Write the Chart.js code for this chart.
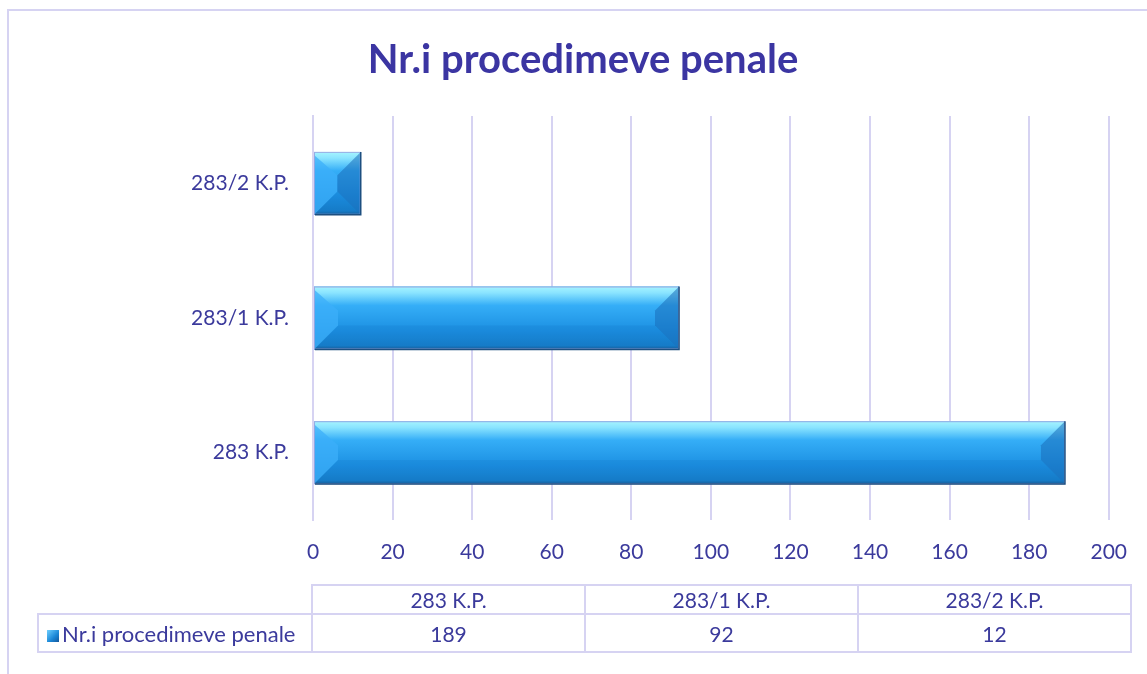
<!DOCTYPE html>
<html lang="sq">
<head>
    <meta charset="UTF-8">
    <title>Nr.i procedimeve penale</title>
    <script src="https://cdn.jsdelivr.net/npm/chart.js"></script>
    <style>
        body {
            margin: 0;
            font-family: Lato, "Noto Sans", sans-serif;
            background: #fff;
        }
        .frame {
            position: relative;
            width: 1147px;
            height: 674px;
            overflow: hidden;
        }
        .frame .border {
            position: absolute;
            left: 7px;
            top: 9px;
            width: 1200px;
            height: 700px;
            border: 2px solid #d6d3f2;
        }
        .title {
            position: absolute;
            left: 0;
            top: 34px;
            width: 1166px;
            text-align: center;
            font-size: 40px;
            font-weight: bold;
            color: #3b35a2;
            line-height: 48px;
        }
        canvas {
            position: absolute;
            left: 0;
            top: 0;
        }
        table {
            position: absolute;
            left: 37px;
            top: 584px;
            border-collapse: collapse;
            color: #3b3a9c;
            font-size: 21px;
        }
        td {
            border: 2px solid #d6d3f2;
            text-align: center;
            padding: 0;
        }
        tr.head td { height: 27px; }
        tr.vals td { height: 36px; }
        td.blank { border: none; border-right: 2px solid #d6d3f2; }
        td.legend { text-align: left; padding-left: 8px; white-space: nowrap; font-size: 22px; }
        .swatch {
            display: inline-block;
            width: 12px;
            height: 12px;
            margin-right: 3px;
            background: linear-gradient(135deg, #6fd0ff, #1a86d6 60%, #15569a);
        }
    </style>
</head>
<body>
<div class="frame">
    <div class="border"></div>
    <canvas id="chart" width="1147" height="674"></canvas>
    <div class="title" id="title"></div>
    <table id="dataTable"></table>
</div>

<script>
    // data
    const categories = ['283 K.P.', '283/1 K.P.', '283/2 K.P.'];
    const seriesName = 'Nr.i procedimeve penale';
    const values = [189, 92, 12];
    const xTicks = [0, 20, 40, 60, 80, 100, 120, 140, 160, 180, 200];

    const textColor = '#3b3a9c';
    const gridColor = '#d6d3f2';

    document.getElementById('title').textContent = seriesName;

    // bars are listed bottom to top in the picture, so reverse for the y axis
    const yLabels = categories.slice().reverse();
    const yValues = values.slice().reverse();

    // glossy fill + bevelled ends, painted over the library's own bar elements
    const bevelPlugin = {
        id: 'bevel',
        afterDatasetsDraw(chart) {
            const ctx = chart.ctx;
            const meta = chart.getDatasetMeta(0);
            meta.data.forEach(bar => {
                const x0 = bar.base, x1 = bar.x;
                const y0 = bar.y - bar.height / 2, y1 = bar.y + bar.height / 2;
                const b = Math.min(bar.height / 2, (x1 - x0) / 2, 24);
                ctx.save();

                const g = ctx.createLinearGradient(0, y0, 0, y1);
                g.addColorStop(0, '#a6f4ff');
                g.addColorStop(0.1, '#8ae4ff');
                g.addColorStop(0.3, '#35aef7');
                g.addColorStop(0.7, '#1c90e2');
                g.addColorStop(0.94, '#1780cc');
                g.addColorStop(1, '#1a5d96');
                ctx.fillStyle = g;
                ctx.fillRect(x0, y0, x1 - x0, y1 - y0);

                // left face - lighter
                ctx.beginPath();
                ctx.moveTo(x0, y0 + 3);
                ctx.lineTo(x0 + b, y0 + b);
                ctx.lineTo(x0 + b, y1 - b);
                ctx.lineTo(x0, y1);
                ctx.closePath();
                ctx.fillStyle = 'rgba(60,175,250,0.75)';
                ctx.fill();
                // right face - darker
                ctx.beginPath();
                ctx.moveTo(x1, y0);
                ctx.lineTo(x1 - b, y0 + b);
                ctx.lineTo(x1 - b, y1 - b);
                ctx.lineTo(x1, y1);
                ctx.closePath();
                ctx.fillStyle = 'rgba(25,110,185,0.55)';
                ctx.fill();
                // bottom face - slightly darker
                ctx.beginPath();
                ctx.moveTo(x0, y1);
                ctx.lineTo(x0 + b, y1 - b);
                ctx.lineTo(x1 - b, y1 - b);
                ctx.lineTo(x1, y1);
                ctx.closePath();
                ctx.fillStyle = 'rgba(10,90,170,0.10)';
                ctx.fill();

                // outline: soft lavender all round, dark on right and bottom
                ctx.strokeStyle = 'rgba(150,165,225,0.9)';
                ctx.lineWidth = 1;
                ctx.strokeRect(x0 + 0.5, y0 + 0.5, x1 - x0 - 1, y1 - y0 - 1);
                ctx.strokeStyle = '#1d4f80';
                ctx.lineWidth = 1.5;
                ctx.beginPath();
                ctx.moveTo(x1, y0);
                ctx.lineTo(x1, y1);
                ctx.lineTo(x0 + 1, y1);
                ctx.stroke();
                ctx.restore();
            });
        }
    };

    new Chart(document.getElementById('chart').getContext('2d'), {
        type: 'bar',
        data: {
            labels: yLabels,
            datasets: [{
                label: seriesName,
                data: yValues,
                backgroundColor: '#2196e6',
                borderWidth: 0,
                categoryPercentage: 1,
                barPercentage: 0.467
            }]
        },
        options: {
            indexAxis: 'y',
            responsive: false,
            animation: false,
            layout: {
                padding: { left: 0, right: 36, top: 116, bottom: 104 }
            },
            plugins: {
                legend: { display: false },
                tooltip: { enabled: false }
            },
            scales: {
                x: {
                    min: 0,
                    max: 200,
                    afterBuildTicks: scale => {
                        scale.ticks = xTicks.map(v => ({ value: v }));
                    },
                    afterFit: scale => { scale.height = 50; },
                    grid: {
                        color: gridColor,
                        lineWidth: 2,
                        drawTicks: false
                    },
                    border: { display: false },
                    ticks: {
                        color: textColor,
                        padding: 20,
                        font: { family: 'Lato', size: 21 }
                    }
                },
                y: {
                    afterFit: scale => { scale.width = 313; },
                    grid: { display: false, drawTicks: false },
                    border: { display: true, color: gridColor, width: 2 },
                    ticks: {
                        color: textColor,
                        padding: 24,
                        font: { family: 'Lato', size: 21 }
                    }
                }
            }
        },
        plugins: [bevelPlugin]
    });

    // data table under the chart
    const table = document.getElementById('dataTable');
    const head = document.createElement('tr');
    head.className = 'head';
    head.innerHTML = '<td class="blank" style="width:273px"></td>' +
        categories.map(c => `<td style="width:271px">${c}</td>`).join('');
    const row = document.createElement('tr');
    row.className = 'vals';
    row.innerHTML = `<td class="legend"><span class="swatch"></span>${seriesName}</td>` +
        values.map(v => `<td>${v}</td>`).join('');
    table.appendChild(head);
    table.appendChild(row);
</script>
</body>
</html>
